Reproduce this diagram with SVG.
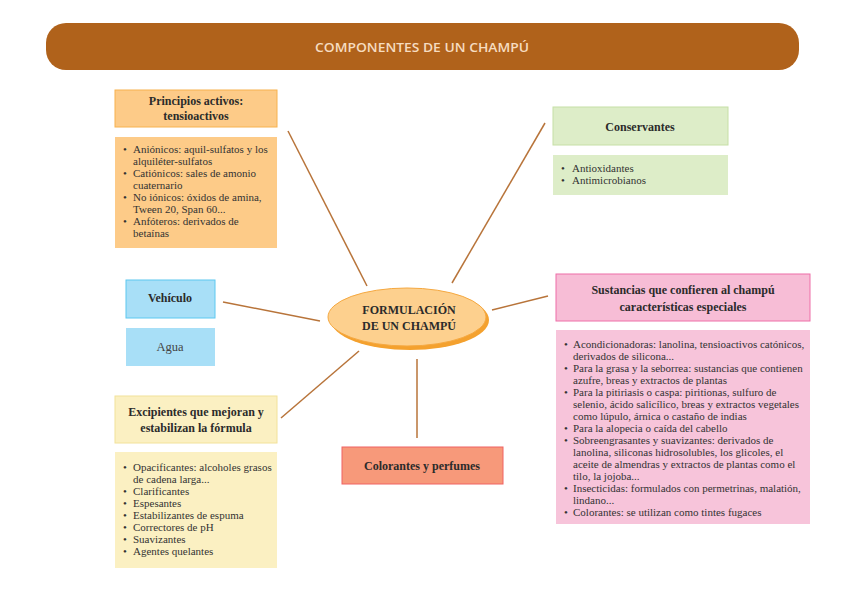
<svg xmlns="http://www.w3.org/2000/svg" width="848" height="599" viewBox="0 0 848 599">
<style>
.t{font-family:"Liberation Serif","Times New Roman",serif;font-weight:bold;font-size:12px;fill:#2b2b2b;text-anchor:middle}
.l{font-family:"Liberation Serif","Times New Roman",serif;font-size:11px;fill:#333}
.a{font-family:"Liberation Serif","Times New Roman",serif;font-size:12.5px;fill:#444;text-anchor:middle}
.c{stroke:#B8743A;stroke-width:1.5;fill:none}
</style>
<rect width="848" height="599" fill="#fff"/>
<g id="banner">
<rect x="46" y="23" width="753" height="47" rx="20" fill="#B0621B"/>
<text x="422" y="52" font-family="'Open Sans','Liberation Sans',sans-serif" font-size="13" font-weight="600" fill="#F6DCC0" text-anchor="middle" textLength="214" lengthAdjust="spacingAndGlyphs">COMPONENTES DE UN CHAMPÚ</text>
</g>
<g id="connectors">
<line class="c" x1="288" y1="131" x2="367" y2="286"/>
<line class="c" x1="545" y1="123" x2="452" y2="283"/>
<line class="c" x1="223" y1="302" x2="320" y2="321"/>
<line class="c" x1="492" y1="310" x2="548" y2="296"/>
<line class="c" x1="359" y1="351" x2="281" y2="418"/>
<line class="c" x1="417" y1="359" x2="417" y2="438"/>
</g>
<g id="center">
<ellipse cx="410" cy="320" rx="79" ry="30" fill="#F4A12E"/>
<ellipse cx="407" cy="317" rx="79" ry="29" fill="#FDD08E" stroke="#F5A840" stroke-width="1"/>
<text class="t" x="409" y="314">FORMULACIÓN</text>
<text class="t" x="409" y="330">DE UN CHAMPÚ</text>
</g>
<g id="principios">
<rect x="115" y="90" width="162" height="37" fill="#FDCB88" stroke="#F7B24E" stroke-width="1"/>
<text class="t" x="196" y="105">Principios activos:</text>
<text class="t" x="196" y="120">tensioactivos</text>
</g>
<g id="principios-list">
<rect x="115" y="137" width="162" height="111" fill="#FDCB88"/>
<g class="l">
<text x="123" y="153">•</text><text x="133" y="153">Aniónicos: aquil-sulfatos y los</text>
<text x="133" y="165">alquiléter-sulfatos</text>
<text x="123" y="177">•</text><text x="133" y="177">Catiónicos: sales de amonio</text>
<text x="133" y="189">cuaternario</text>
<text x="123" y="201">•</text><text x="133" y="201">No iónicos: óxidos de amina,</text>
<text x="133" y="213">Tween 20, Span 60...</text>
<text x="123" y="225">•</text><text x="133" y="225">Anfóteros: derivados de</text>
<text x="133" y="237">betaínas</text>
</g>
</g>
<g id="conservantes">
<rect x="553" y="107" width="175" height="38" fill="#DDEDC8" stroke="#C6DFA6" stroke-width="1"/>
<text class="t" x="640" y="131">Conservantes</text>
</g>
<g id="conservantes-list">
<rect x="553" y="155" width="175" height="40" fill="#DDEDC8"/>
<g class="l">
<text x="561" y="172">•</text><text x="572" y="172">Antioxidantes</text>
<text x="561" y="184">•</text><text x="572" y="184">Antimicrobianos</text>
</g>
</g>
<g id="vehiculo">
<rect x="126" y="280" width="89" height="38" fill="#A8DFF7" stroke="#5CC8F0" stroke-width="1"/>
<text class="t" x="170" y="302">Vehículo</text>
</g>
<g id="agua">
<rect x="126" y="328" width="89" height="38" fill="#A8DFF7"/>
<text class="a" x="170" y="351">Agua</text>
</g>
<g id="sustancias">
<rect x="556" y="274" width="254" height="47" fill="#F7BDD6" stroke="#EE6FA8" stroke-width="1"/>
<text class="t" x="683" y="294">Sustancias que confieren al champú</text>
<text class="t" x="683" y="311">características especiales</text>
</g>
<g id="sustancias-list">
<rect x="556" y="330" width="254" height="194" fill="#F7C4DA"/>
<g class="l">
<text x="564" y="348">•</text><text x="573" y="348">Acondicionadoras: lanolina, tensioactivos catónicos,</text>
<text x="573" y="360">derivados de silicona...</text>
<text x="564" y="372">•</text><text x="573" y="372">Para la grasa y la seborrea: sustancias que contienen</text>
<text x="573" y="384">azufre, breas y extractos de plantas</text>
<text x="564" y="396">•</text><text x="573" y="396">Para la pitiriasis o caspa: piritionas, sulfuro de</text>
<text x="573" y="408">selenio, ácido salicílico, breas y extractos vegetales</text>
<text x="573" y="420">como lúpulo, árnica o castaño de indias</text>
<text x="564" y="432">•</text><text x="573" y="432">Para la alopecia o caída del cabello</text>
<text x="564" y="444">•</text><text x="573" y="444">Sobreengrasantes y suavizantes: derivados de</text>
<text x="573" y="456">lanolina, siliconas hidrosolubles, los glicoles, el</text>
<text x="573" y="468">aceite de almendras y extractos de plantas como el</text>
<text x="573" y="480">tilo, la jojoba...</text>
<text x="564" y="492">•</text><text x="573" y="492">Insecticidas: formulados con permetrinas, malatión,</text>
<text x="573" y="504">lindano...</text>
<text x="564" y="516">•</text><text x="573" y="516">Colorantes: se utilizan como tintes fugaces</text>
</g>
</g>
<g id="excipientes">
<rect x="115" y="396" width="162" height="47" fill="#FBF0C2" stroke="#F2E29A" stroke-width="1"/>
<text class="t" x="196" y="416">Excipientes que mejoran y</text>
<text class="t" x="196" y="432">estabilizan la fórmula</text>
</g>
<g id="excipientes-list">
<rect x="115" y="452" width="162" height="116" fill="#FBF0C2"/>
<g class="l">
<text x="123" y="471">•</text><text x="133" y="471">Opacificantes: alcoholes grasos</text>
<text x="133" y="483">de cadena larga...</text>
<text x="123" y="495">•</text><text x="133" y="495">Clarificantes</text>
<text x="123" y="507">•</text><text x="133" y="507">Espesantes</text>
<text x="123" y="519">•</text><text x="133" y="519">Estabilizantes de espuma</text>
<text x="123" y="531">•</text><text x="133" y="531">Correctores de pH</text>
<text x="123" y="543">•</text><text x="133" y="543">Suavizantes</text>
<text x="123" y="555">•</text><text x="133" y="555">Agentes quelantes</text>
</g>
</g>
<g id="colorantes">
<rect x="342" y="447" width="161" height="37" fill="#F7997A" stroke="#F06262" stroke-width="1"/>
<text class="t" x="422" y="470">Colorantes y perfumes</text>
</g>
</svg>
